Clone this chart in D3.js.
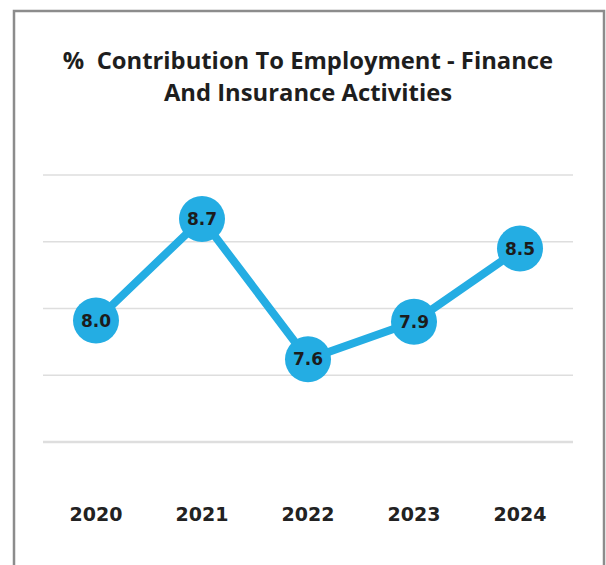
<!DOCTYPE html>
<html>
<head>
<meta charset="utf-8">
<script src="https://cdn.jsdelivr.net/npm/d3@7"></script>
<style>
  body { margin: 0; background: #fff; }
</style>
</head>
<body>
<div class="canvas"></div>
<script>
// data
const years = ['2020', '2021', '2022', '2023', '2024'];
const values = [7.91, 8.67, 7.62, 7.90, 8.45];
const valueLabels = ['8.0', '8.7', '7.6', '7.9', '8.5'];
const gridTicks = [7, 7.5, 8, 8.5, 9];
const titleLines = ['%  Contribution To Employment - Finance', 'And Insurance Activities'];

const svg = d3.select('.canvas')
  .append('svg')
  .attr('width', 606)
  .attr('height', 565);

// frame
svg.append('rect')
  .attr('x', 14).attr('y', 11)
  .attr('width', 590).attr('height', 600)
  .attr('fill', 'none')
  .attr('stroke', '#8c8c8c')
  .attr('stroke-width', 2.5);

// title
svg.append('text')
  .attr('text-anchor', 'middle')
  .attr('font-family', 'Open Sans, sans-serif')
  .attr('font-weight', 700)
  .attr('font-size', 23.8)
  .attr('fill', '#1e1e1e')
  .style('white-space', 'pre')
  .selectAll('tspan')
  .data(titleLines)
  .join('tspan')
  .attr('x', 308)
  .attr('y', (d, i) => 69 + i * 32)
  .text(d => d);

const x = d3.scaleBand()
  .domain(years)
  .range([43, 573]);

const y = d3.scaleLinear()
  .domain([7, 9])
  .range([442, 175]);

// gridlines
svg.append('g')
  .selectAll('line')
  .data(gridTicks)
  .join('line')
  .attr('x1', 43).attr('x2', 573)
  .attr('y1', d => y(d)).attr('y2', d => y(d))
  .attr('stroke', '#dedede')
  .attr('stroke-width', (d, i) => i === 0 ? 2.5 : 1.5);

// x axis labels
const xAxis = d3.axisBottom(x).tickSize(0).tickPadding(0);
const xAxisGroup = svg.append('g')
  .attr('transform', 'translate(0,507)')
  .call(xAxis);
xAxisGroup.select('.domain').remove();
xAxisGroup.selectAll('text')
  .attr('font-family', 'DejaVu Sans, sans-serif')
  .attr('font-weight', 700)
  .attr('font-size', 19)
  .attr('fill', '#222')
  .attr('dy', '0.71em');

const cx = d => x(d) + x.bandwidth() / 2;
const pts = years.map((yr, i) => ({ yr, v: values[i], label: valueLabels[i] }));

const line = d3.line()
  .x(d => cx(d.yr))
  .y(d => y(d.v));

svg.append('path')
  .datum(pts)
  .attr('d', line)
  .attr('fill', 'none')
  .attr('stroke', '#24ade3')
  .attr('stroke-width', 8)
  .attr('stroke-linejoin', 'round');

const nodes = svg.append('g')
  .selectAll('g')
  .data(pts)
  .join('g')
  .attr('transform', d => `translate(${cx(d.yr)},${y(d.v)})`);

nodes.append('circle')
  .attr('r', 23)
  .attr('fill', '#24ade3');

nodes.append('text')
  .attr('text-anchor', 'middle')
  .attr('dy', '0.36em')
  .attr('font-family', 'DejaVu Sans, sans-serif')
  .attr('font-weight', 700)
  .attr('font-size', 17)
  .attr('fill', '#1c1c1c')
  .text(d => d.label);
</script>
</body>
</html>
